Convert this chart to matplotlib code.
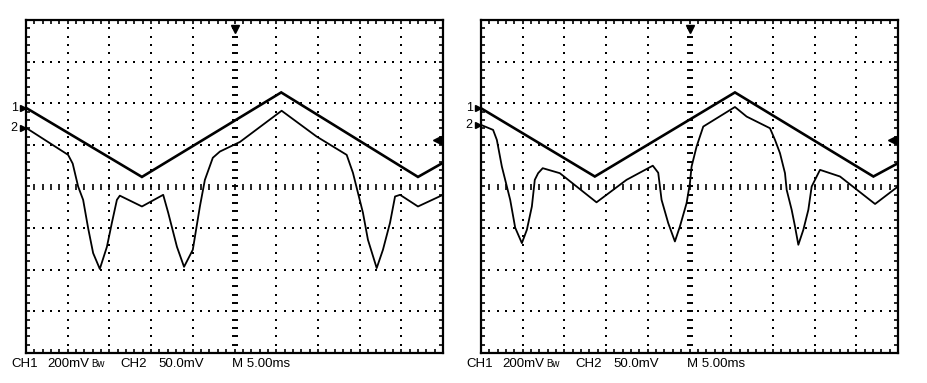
import matplotlib
matplotlib.use("Agg")
import matplotlib.pyplot as plt
import numpy as np

# trace points in screen divisions (x: 0..10 div @ 5 ms/div, y: -4..4 div)
L_CH1_X = [0.0, 2.78, 6.12, 9.40, 10.0]
L_CH1_Y = [1.89, 0.23, 2.26, 0.23, 0.57]
L_CH2_X = [0.0, 1.01, 1.12, 1.25, 1.37, 1.49, 1.61, 1.77, 1.94, 2.06, 2.18, 2.25,
           2.78, 3.29, 3.41, 3.62, 3.79, 4.00, 4.17, 4.29, 4.48, 4.65, 5.13, 6.13,
           6.97, 7.69, 7.84, 7.96, 8.08, 8.20, 8.41, 8.56, 8.73, 8.85, 8.97, 9.40, 10.0]
L_CH2_Y = [1.41, 0.76, 0.55, 0.0, -0.32, -1.00, -1.60, -1.98, -1.45, -0.87, -0.32, -0.22,
           -0.48, -0.20, -0.63, -1.45, -1.93, -1.52, -0.48, 0.16, 0.69, 0.84, 1.07, 1.82,
           1.20, 0.76, 0.33, -0.15, -0.63, -1.28, -1.96, -1.52, -0.87, -0.24, -0.20, -0.48, -0.20]

R_CH1_X = [0.0, 2.73, 6.09, 9.41, 10.0]
R_CH1_Y = [1.88, 0.24, 2.26, 0.24, 0.56]
R_CH2_X = [0.0, 0.29, 0.38, 0.50, 0.62, 0.70, 0.82, 0.98, 1.10, 1.22, 1.29, 1.37, 1.48,
           1.89, 2.77, 3.49, 4.12, 4.25, 4.33, 4.49, 4.65, 4.77, 4.93, 5.01, 5.05, 5.17,
           5.33, 6.09, 6.37, 6.93, 7.05, 7.17, 7.29, 7.33, 7.45, 7.53, 7.61, 7.73, 7.85,
           7.93, 8.01, 8.13, 8.61, 9.45, 10.0]
R_CH2_Y = [1.48, 1.36, 1.12, 0.48, 0.00, -0.32, -0.99, -1.36, -1.04, -0.48, 0.16, 0.32, 0.44,
           0.32, -0.38, 0.16, 0.50, 0.33, -0.32, -0.88, -1.32, -0.96, -0.40, 0.08, 0.48, 0.96,
           1.44, 1.91, 1.68, 1.40, 1.12, 0.80, 0.32, -0.08, -0.56, -0.96, -1.40, -1.04, -0.56,
           0.00, 0.16, 0.40, 0.24, -0.42, 0.00]

READOUT = ["CH1", "200mV", "Bw", "CH2", "50.0mV", "M 5.00ms"]
READOUT_X = [11, 47, 91, 120, 158, 232]   # px offsets from panel origin

W, H = 927, 383
fig = plt.figure(figsize=(W / 100, H / 100), dpi=100)
fig.patch.set_facecolor("white")
FONT = ["Liberation Sans Narrow", "Liberation Sans", "DejaVu Sans"]


def scope(left_px, ch1x, ch1y, ch2x, ch2y):
    ax = fig.add_axes([left_px / W, (H - 353) / H, 417 / W, 333 / H])
    ax.set_xlim(0, 10); ax.set_ylim(-4, 4)
    ax.set_xticks([]); ax.set_yticks([])
    for sp in ax.spines.values():
        sp.set_linewidth(1.6); sp.set_color("black")
    fine = np.arange(0, 10.01, 0.2)
    finey = np.arange(-4, 4.01, 0.2)
    # dotted graticule
    for gx in [1, 2, 3, 4, 6, 7, 8, 9]:
        ax.scatter(np.full(finey.size, gx), finey, s=2.2, marker="s", c="black", lw=0, zorder=1)
    for gy in [-3, -2, -1, 1, 2, 3]:
        ax.scatter(fine, np.full(fine.size, gy), s=2.2, marker="s", c="black", lw=0, zorder=1)
    # centre axes with fine ticks
    ax.plot(fine, np.zeros(fine.size), ls="none", marker="|", ms=4, mew=1.2, c="black")
    ax.plot(np.full(finey.size, 5), finey, ls="none", marker="_", ms=5, mew=1.4, c="black")
    # frame ticks
    ax.plot(fine, np.full(fine.size, 3.96), ls="none", marker="|", ms=3, mew=1.2, c="black", clip_on=False)
    ax.plot(fine, np.full(fine.size, -3.96), ls="none", marker="|", ms=3, mew=1.2, c="black", clip_on=False)
    ax.plot(np.full(finey.size, 0.05), finey, ls="none", marker="_", ms=3, mew=1.2, c="black", clip_on=False)
    ax.plot(np.full(finey.size, 9.95), finey, ls="none", marker="_", ms=3, mew=1.2, c="black", clip_on=False)
    # traces
    ax.plot(ch1x, ch1y, c="black", lw=1.9, solid_joinstyle="miter", zorder=4)
    ax.plot(ch2x, ch2y, c="black", lw=1.3, zorder=4)
    # markers
    ax.plot([5], [3.78], marker="v", ms=6, c="black", clip_on=False, zorder=5)
    ax.plot([9.86], [1.12], marker="<", ms=6, c="black", clip_on=False, zorder=5)
    ax.plot([-0.08], [ch1y[0]], marker=">", ms=4, c="black", clip_on=False)
    ax.plot([-0.08], [ch2y[0]], marker=">", ms=4, c="black", clip_on=False)
    ax.text(-0.2, ch1y[0], "1", ha="right", va="center", fontsize=9, family=FONT)
    ax.text(-0.2, ch2y[0], "2", ha="right", va="center", fontsize=9, family=FONT)
    for lbl, ox in zip(READOUT, READOUT_X):
        fs = 7 if lbl == "Bw" else 9.5
        fig.text((left_px - 26 + ox) / W, 1 - 367 / H, lbl, ha="left", va="baseline",
                 fontsize=fs, family=FONT)


scope(26, L_CH1_X, L_CH1_Y, L_CH2_X, L_CH2_Y)
scope(481, R_CH1_X, R_CH1_Y, R_CH2_X, R_CH2_Y)

plt.savefig("out.png", dpi=100, facecolor="white")
